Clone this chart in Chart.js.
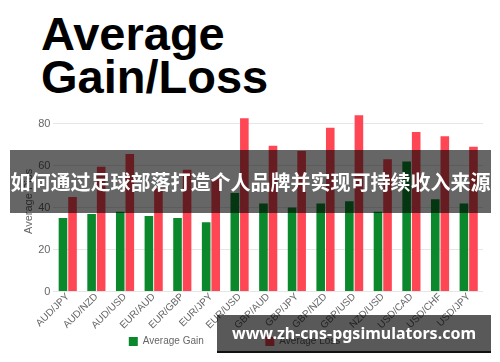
<!DOCTYPE html>
<html>
<head>
<meta charset="utf-8">
<script src="https://cdn.jsdelivr.net/npm/chart.js@4"></script>
<style>
  html, body { margin: 0; padding: 0; background: #fff; width: 500px; height: 362px; overflow: hidden; }
  .title {
    position: absolute; left: 41px; top: 12px;
    font-family: "Liberation Sans", Arial, sans-serif; font-weight: bold;
    font-size: 47px; line-height: 43px; color: #000;
  }
  .chart-box { position: absolute; left: 0; top: 96px; width: 500px; height: 266px; }
  .banner {
    position: absolute; left: 10px; top: 150px; width: 481px; height: 63px;
    background: rgba(0, 0, 0, 0.6); color: #fff;
    font-family: "Noto Sans CJK SC", sans-serif; font-weight: bold; font-size: 20px;
    display: flex; align-items: center; justify-content: center; white-space: nowrap;
  }
  .mark {
    position: absolute; left: 217px; top: 315px; width: 274px; height: 36px;
    background: rgba(0, 0, 0, 0.65); border-bottom: 2px solid #111; color: #fff;
    font-family: "Noto Sans", sans-serif; font-weight: bold; font-size: 16px;
    display: flex; align-items: center; justify-content: center; white-space: nowrap;
  }
</style>
</head>
<body>
<div class="title">Average<br>Gain/Loss</div>
<div class="chart-box"><canvas id="chart"></canvas></div>
<div class="banner">如何通过足球部落打造个人品牌并实现可持续收入来源</div>
<div class="mark">www.zh-cns-pgsimulators.com</div>
<script>
// values
const pairs = ["AUD/JPY", "AUD/NZD", "AUD/USD", "EUR/AUD", "EUR/GBP", "EUR/JPY", "EUR/USD",
  "GBP/AUD", "GBP/JPY", "GBP/NZD", "GBP/USD", "NZD/USD", "USD/CAD", "USD/CHF", "USD/JPY"];
const avgGain = [35, 37, 38, 36, 35, 33, 47, 42, 40, 42, 43, 38, 62, 44, 42];
const avgLoss = [45, 59.5, 65.5, 49, 58, 54, 82.5, 69.5, 67, 78, 84, 63, 76, 74, 69];
const yTicks = [0, 20, 40, 60, 80];

const font = "'Liberation Sans', Arial, sans-serif";

new Chart(document.getElementById("chart"), {
  type: "bar",
  data: {
    labels: pairs,
    datasets: [
      { label: "Average Gain", data: avgGain, backgroundColor: "#0b872c" },
      { label: "Average Loss", data: avgLoss, backgroundColor: "#ff4654" },
    ],
  },
  options: {
    responsive: true,
    maintainAspectRatio: false,
    animation: false,
    categoryPercentage: 0.667,
    barPercentage: 0.9,
    layout: { padding: { top: 15, right: 17, bottom: 5.5, left: 0 } },
    plugins: {
      tooltip: { enabled: false },
      legend: {
        position: "bottom",
        labels: {
          color: "#666",
          font: { family: font, size: 10 },
          boxWidth: 9,
          boxHeight: 9,
          padding: 6,
          // wider spacing between the two items, as in the picture
          generateLabels: (chart) => {
            const items = Chart.defaults.plugins.legend.labels.generateLabels(chart);
            items[0].text += " ".repeat(20);
            items[1].text += " ".repeat(5);
            return items;
          },
        },
      },
    },
    scales: {
      x: {
        grid: { display: false, drawTicks: false },
        border: { display: false },
        ticks: {
          color: "#666",
          font: { family: font, size: 10, lineHeight: 1 },
          maxRotation: 45,
          minRotation: 45,
          padding: 0,
        },
      },
      y: {
        min: 0,
        max: 86,
        afterBuildTicks: (axis) => {
          axis.ticks = yTicks.map((v) => ({ value: v }));
        },
        grid: { color: "#e6e6e6", drawTicks: false },
        border: { display: false },
        ticks: { color: "#666", font: { family: font, size: 11 }, padding: 3 },
        title: {
          display: true,
          text: "Average Pips",
          color: "#666",
          font: { family: font, size: 11 },
          padding: { top: 22, bottom: 0 },
        },
      },
    },
  },
});
</script>
</body>
</html>
